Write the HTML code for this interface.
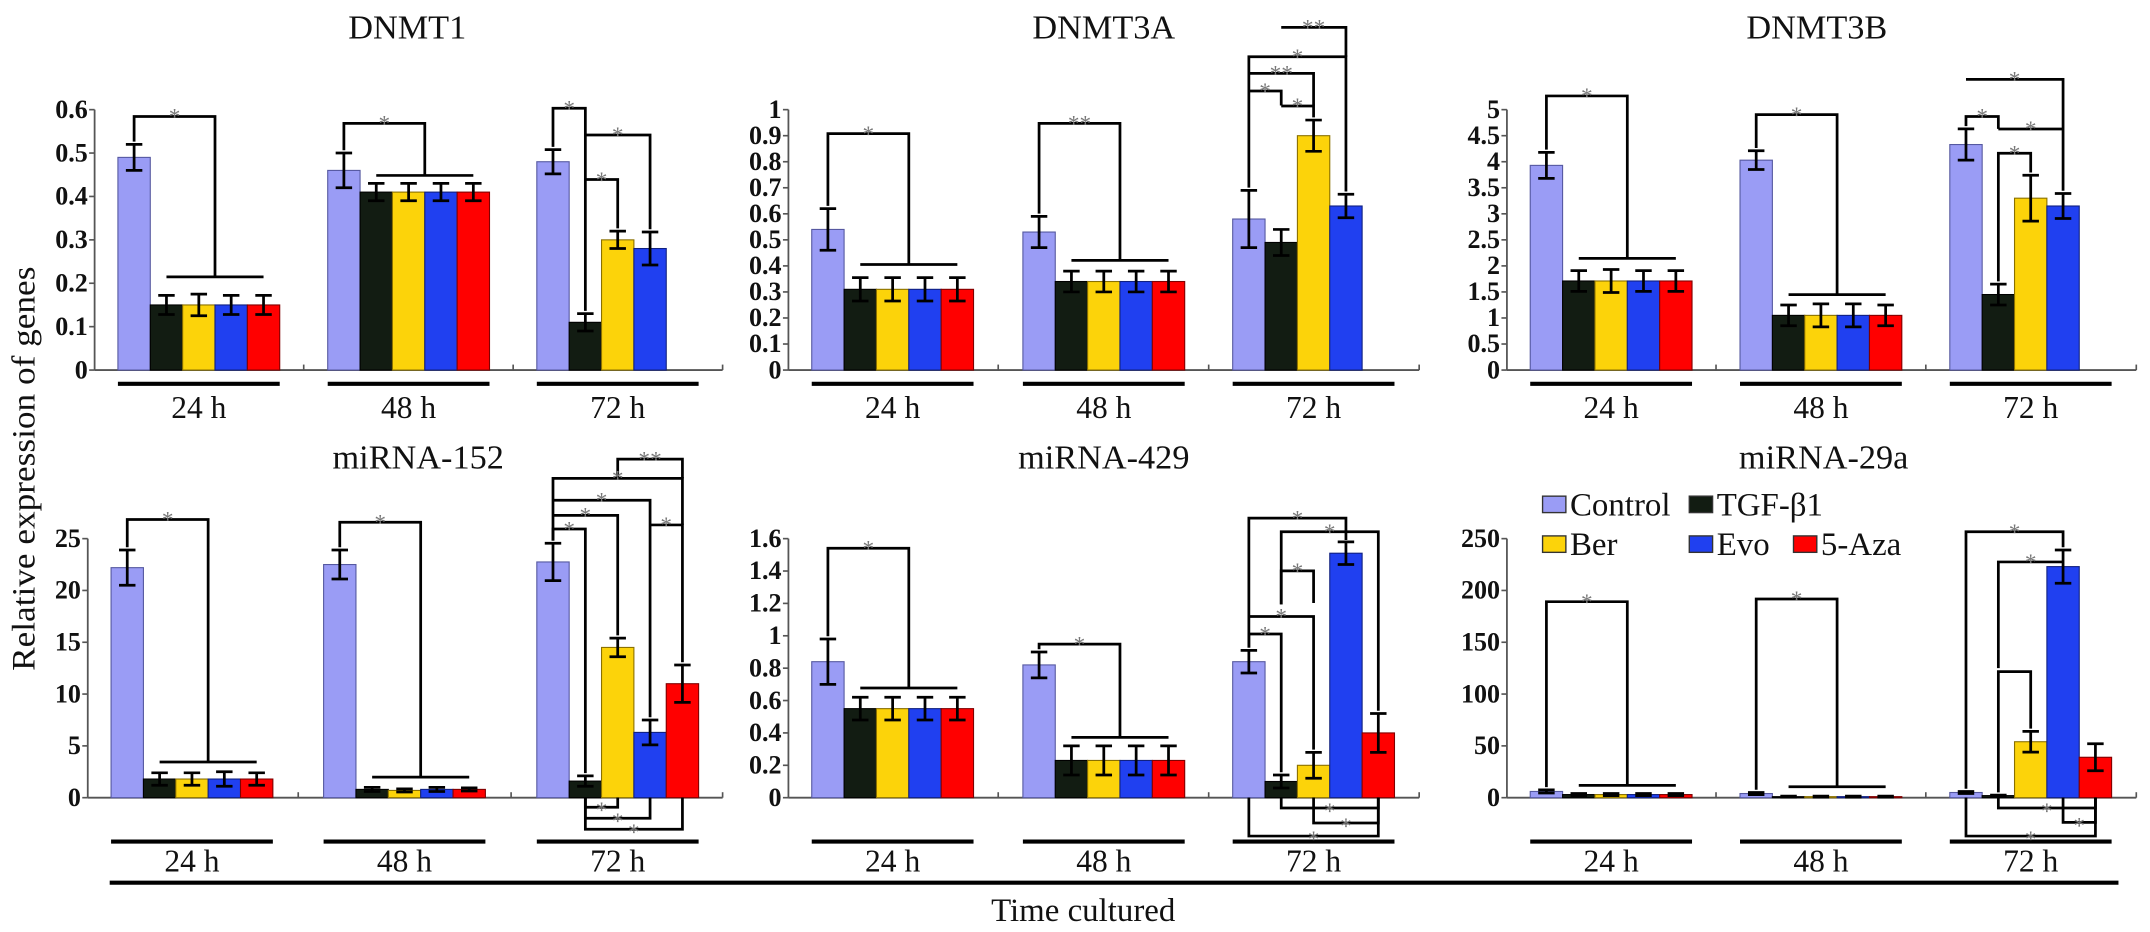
<!DOCTYPE html>
<html><head><meta charset="utf-8">
<style>
html,body{margin:0;padding:0;background:#fff;}
svg{display:block;font-family:"Liberation Serif","DejaVu Serif",serif;}
svg text{font-family:"Liberation Serif","DejaVu Serif",serif;fill:#111;}
</style></head>
<body>
<svg id="chart" width="2150" height="932" viewBox="0 0 1568 680" preserveAspectRatio="none" font-family="Liberation Serif, DejaVu Serif, serif">
  <text x="0" y="0" transform="translate(25,342) rotate(-90)" text-anchor="middle" font-size="24" textLength="295" lengthAdjust="spacingAndGlyphs">Relative expression of genes</text>
  <line x1="80" y1="644" x2="1545" y2="644" stroke="#000" stroke-width="3"/>
  <text x="790" y="672" text-anchor="middle" font-size="24">Time cultured</text>
  <g>
    <rect x="1125" y="362" width="17" height="12" fill="#9a9cf5" stroke="#333"/>
    <text x="1145" y="376" font-size="24">Control</text>
    <rect x="1232" y="362" width="17" height="12" fill="#121c12" stroke="#333"/>
    <text x="1252" y="376" font-size="24">TGF-β1</text>
    <rect x="1125" y="391" width="17" height="12" fill="#fcd30a" stroke="#333"/>
    <text x="1145" y="405" font-size="24">Ber</text>
    <rect x="1232" y="391" width="17" height="12" fill="#2040f0" stroke="#333"/>
    <text x="1252" y="405" font-size="24">Evo</text>
    <rect x="1308" y="391" width="17" height="12" fill="#ff0000" stroke="#333"/>
    <text x="1328" y="405" font-size="24">5-Aza</text>
  </g>
</svg>
<script>
// ---- data ----
const groupLabels = ["24 h","48 h","72 h"];
const seriesNames = ["Control","TGF-β1","Ber","Evo","5-Aza"];
const dnmt1Values = [[0.49,0.15,0.15,0.15,0.15],[0.46,0.41,0.41,0.41,0.41],[0.48,0.11,0.30,0.28,null]];
const dnmt1Errors = [[0.03,0.022,0.025,0.022,0.022],[0.04,0.02,0.02,0.02,0.02],[0.028,0.02,0.02,0.038,0]];
const dnmt1Ticks = ["0","0.1","0.2","0.3","0.4","0.5","0.6"];
const dnmt3aValues = [[0.54,0.31,0.31,0.31,0.31],[0.53,0.34,0.34,0.34,0.34],[0.58,0.49,0.90,0.63,null]];
const dnmt3aErrors = [[0.08,0.045,0.045,0.045,0.045],[0.06,0.04,0.04,0.04,0.04],[0.11,0.05,0.06,0.045,0]];
const dnmt3aTicks = ["0","0.1","0.2","0.3","0.4","0.5","0.6","0.7","0.8","0.9","1"];
const dnmt3bValues = [[3.93,1.71,1.71,1.71,1.71],[4.03,1.05,1.05,1.05,1.05],[4.33,1.45,3.30,3.15,null]];
const dnmt3bErrors = [[0.25,0.2,0.22,0.2,0.2],[0.18,0.2,0.22,0.22,0.2],[0.3,0.2,0.44,0.24,0]];
const dnmt3bTicks = ["0","0.5","1","1.5","2","2.5","3","3.5","4","4.5","5"];
const mir152Values = [[22.2,1.8,1.8,1.8,1.8],[22.5,0.8,0.7,0.8,0.8],[22.75,1.6,14.5,6.3,11.0]];
const mir152Errors = [[1.7,0.6,0.6,0.7,0.6],[1.4,0.2,0.15,0.2,0.15],[1.8,0.5,0.9,1.2,1.8]];
const mir152Ticks = ["0","5","10","15","20","25"];
const mir429Values = [[0.84,0.55,0.55,0.55,0.55],[0.82,0.23,0.23,0.23,0.23],[0.84,0.10,0.20,1.51,0.40]];
const mir429Errors = [[0.14,0.07,0.07,0.07,0.07],[0.08,0.09,0.09,0.09,0.09],[0.07,0.04,0.08,0.07,0.12]];
const mir429Ticks = ["0","0.2","0.4","0.6","0.8","1","1.2","1.4","1.6"];
const mir29aValues = [[6,3,3,3,3],[4,1,1,1,1],[5,2,54,223,39]];
const mir29aErrors = [[1.5,1,1,1,1],[1,0.5,0.5,0.5,0.5],[1,0.5,10,16,13]];
const mir29aTicks = ["0","50","100","150","200","250"];

// ---- layout ----
const colors = ["#9a9cf5","#121c12","#fcd30a","#2040f0","#ff0000"];
const strokes = ["#5558a0","#000","#8a7000","#102080","#800000"];
const BW = 23.6;
const panels = [
 {name:"dnmt1",title:"DNMT1",tx:297,ty:28,ax:69,y0:270,yTop:80,max:0.6,vals:dnmt1Values,errs:dnmt1Errors,ticks:dnmt1Ticks,gx:[86,239,391.5],end:527,ul:280,lb:305,
  br:[{t:"cr",g:0,top:85,bot:202,l:"*"},{t:"cr",g:1,top:90,bot:128,l:"*"},
      {t:"p",g:2,a:0,b:1,y:79,l:"*"},{t:"p",g:2,a:1,b:3,y:98.5,la:0,l:"*"},{t:"p",g:2,a:1,b:2,y:131,la:0,l:"*"}]},
 {name:"dnmt3a",title:"DNMT3A",tx:805,ty:28,ax:575,y0:270,yTop:80,max:1.0,vals:dnmt3aValues,errs:dnmt3aErrors,ticks:dnmt3aTicks,gx:[592,746,899],end:1035,ul:280,lb:305,
  br:[{t:"cr",g:0,top:97.5,bot:193,l:"*"},{t:"cr",g:1,top:90,bot:190,l:"**"},
      {t:"p",g:2,a:1,b:3,y:20,la:0,lb:41.4,l:"**"},{t:"p",g:2,a:0,b:3,y:41.4,l:"*"},{t:"p",g:2,a:0,b:2,y:53.5,la:0,lb:77,l:"**"},
      {t:"p",g:2,a:0,b:1,y:66.4,la:0,lb:77,l:"*"},{t:"p",g:2,a:1,b:2,y:77.3,la:0,l:"*"}]},
 {name:"dnmt3b",title:"DNMT3B",tx:1325,ty:28,ax:1099,y0:270,yTop:80,max:5,vals:dnmt3bValues,errs:dnmt3bErrors,ticks:dnmt3bTicks,gx:[1116,1269,1422],end:1558,ul:280,lb:305,
  br:[{t:"cr",g:0,top:70,bot:188.5,l:"*"},{t:"cr",g:1,top:83.6,bot:215,l:"*"},
      {t:"p",g:2,a:0,b:3,y:57.9,la:0,l:"*"},{t:"p",g:2,a:0,b:1,y:85,lb:94,l:"*"},{t:"p",g:2,a:1,b:3,y:94.1,la:0,lb:0,l:"*"},{t:"p",g:2,a:1,b:2,y:111.8,l:"*"}]},
 {name:"mirna-152",title:"miRNA-152",tx:305,ty:342,ax:64,y0:582,yTop:393,max:25,vals:mir152Values,errs:mir152Errors,ticks:mir152Ticks,gx:[81,236,391.5],end:527,ul:614,lb:636,
  br:[{t:"cr",g:0,top:379,bot:556,l:"*"},{t:"cr",g:1,top:381,bot:567,l:"*"},
      {t:"p",g:2,a:2,b:4,y:335,lb:349,la:349,l:"**"},{t:"p",g:2,a:0,b:4,y:349,lb:383,l:"*"},{t:"p",g:2,a:0,b:3,y:365,la:0,l:"*"},
      {t:"p",g:2,a:0,b:2,y:376,la:0,l:"*"},{t:"p",g:2,a:0,b:1,y:386,l:"*"},{t:"p",g:2,a:3,b:4,y:383,la:0,l:"*"},
      {t:"d",g:2,a:1,b:2,y:589,l:"*"},{t:"d",g:2,a:1,b:3,y:597,l:"*"},{t:"d",g:2,a:1,b:4,y:605,l:"*"}]},
 {name:"mirna-429",title:"miRNA-429",tx:805,ty:342,ax:575,y0:582,yTop:393,max:1.6,vals:mir429Values,errs:mir429Errors,ticks:mir429Ticks,gx:[592,746,899],end:1035,ul:614,lb:636,
  br:[{t:"cr",g:0,top:400,bot:502,l:"*"},{t:"cr",g:1,top:470,bot:538,l:"*"},
      {t:"p",g:2,a:0,b:3,y:378,lb:394,l:"*"},{t:"p",g:2,a:1,b:4,y:388,la:441,l:"*"},{t:"p",g:2,a:1,b:2,y:416.5,la:441,lb:440,l:"*"},
      {t:"p",g:2,a:0,b:2,y:449.8,la:0,l:"*"},{t:"p",g:2,a:0,b:1,y:462.6,l:"*"},
      {t:"d",g:2,a:1,b:4,y:589.5,l:"*"},{t:"d",g:2,a:2,b:4,y:600.5,l:"*"},{t:"d",g:2,a:0,b:4,y:610,l:"*"}]},
 {name:"mirna-29a",title:"miRNA-29a",tx:1330,ty:342,ax:1099,y0:582,yTop:393,max:250,vals:mir29aValues,errs:mir29aErrors,ticks:mir29aTicks,gx:[1116,1269,1422],end:1558,ul:614,lb:636,
  br:[{t:"cr",g:0,top:439,bot:573,l:"*"},{t:"cr",g:1,top:437,bot:574,l:"*"},
      {t:"p",g:2,a:0,b:3,y:388,l:"*"},{t:"p",g:2,a:1,b:3,y:410,la:487.5,lb:0,l:"*"},{t:"p",g:2,a:1,b:2,y:490,l:""},
      {t:"d",g:2,a:1,b:4,y:589.5,l:"*"},{t:"d",g:2,a:3,b:4,y:600,l:"*"},{t:"d",g:2,a:0,b:4,y:610,l:"*"}]}
];

const svg = document.getElementById('chart');
const NS = svg.namespaceURI;
function mk(tag, attrs, parent){
  const el = document.createElementNS(NS, tag);
  for (const k in attrs) el.setAttribute(k, attrs[k]);
  parent.appendChild(el);
  return el;
}

panels.forEach(p => {
  const g = mk('g', {}, svg);
  
  
  const yScale = v => p.y0 - (v / p.max) * (p.y0 - p.yTop);
  const cx = (gi, i) => p.gx[gi] + (i + 0.5) * BW;
  const errTop = (gi, i) => yScale(p.vals[gi][i] + p.errs[gi][i]) - 2;

  const title = mk('text', {x:p.tx, y:p.ty, 'text-anchor':'middle', 'font-size':25}, g);
  
  
  title.textContent = p.title;

  const yAxis = mk('line', {x1:p.ax, y1:p.yTop, x2:p.ax, y2:p.y0, stroke:'#555', 'stroke-width':1.3}, g);
  
  
  const nT = p.ticks.length - 1;
  p.ticks.forEach((lab, k) => {
    const v = p.max * k / nT;
    const y = yScale(v);
    const tk = mk('line', {x1:p.ax - 4, y1:y, x2:p.ax, y2:y, stroke:'#555', 'stroke-width':1.2}, g);
    
    
    const tl = mk('text', {x:p.ax - 5, y:y + 6, 'text-anchor':'end', 'font-size':19, 'font-weight':600}, g);
    
    
    tl.textContent = lab;
  });
  const xAxis = mk('line', {x1:p.ax, y1:p.y0, x2:p.end, y2:p.y0, stroke:'#555', 'stroke-width':1.3}, g);
  
  
  [ (p.gx[0]+5*BW+p.gx[1])/2, (p.gx[1]+5*BW+p.gx[2])/2, p.end ].forEach(x => {
    const t = mk('line', {x1:x, y1:p.y0, x2:x, y2:p.y0 - 4, stroke:'#555', 'stroke-width':1.2}, g);
    
    
  });

  p.vals.forEach((grp, gi) => {
    grp.forEach((v, i) => {
      if (v === null) return;
      const x = p.gx[gi] + i * BW;
      const y = yScale(v);
      const r = mk('rect', {x:x, y:y, width:BW, height:Math.max(p.y0 - y, 0.5), fill:colors[i], stroke:strokes[i], 'stroke-width':0.8}, g);
      
      
      const e = p.errs[gi][i];
      const yt = yScale(v + e), yb = yScale(Math.max(v - e, 0));
      const c = x + BW / 2;
      const eb = mk('path', {d:`M${c},${yt}V${yb}M${c-6},${yt}H${c+6}M${c-6},${yb}H${c+6}`, stroke:'#000', 'stroke-width':2, fill:'none'}, g);
      
      
    });
    const ul = mk('line', {x1:p.gx[gi], y1:p.ul, x2:p.gx[gi] + 5 * BW, y2:p.ul, stroke:'#000', 'stroke-width':3}, g);
    
    
    const gl = mk('text', {x:p.gx[gi] + 2.5 * BW, y:p.lb, 'text-anchor':'middle', 'font-size':23}, g);
    
    
    gl.textContent = groupLabels[gi];
  });

  p.br.forEach(b => {
    let d, lx, ly;
    if (b.t === 'cr') {
      const x0 = cx(b.g, 0), x1 = p.gx[b.g] + 3 * BW;
      d = `M${x0},${errTop(b.g,0)}V${b.top}H${x1}V${b.bot}M${cx(b.g,1)},${b.bot}H${cx(b.g,4)}`;
      lx = (x0 + x1) / 2; ly = b.top - 3;
    } else if (b.t === 'p') {
      const xa = cx(b.g, b.a), xb = cx(b.g, b.b);
      const la = (b.la === undefined) ? errTop(b.g, b.a) : (b.la === 0 ? b.y : b.la);
      const lb = (b.lb === undefined) ? errTop(b.g, b.b) : (b.lb === 0 ? b.y : b.lb);
      d = `M${xa},${la}V${b.y}H${xb}V${lb}`;
      lx = (xa + xb) / 2; ly = b.y - 3;
    } else {
      const xa = cx(b.g, b.a), xb = cx(b.g, b.b);
      d = `M${xa},${p.y0}V${b.y}H${xb}V${p.y0}`;
      lx = (xa + xb) / 2; ly = b.y - 1;
    }
    const bp = mk('path', {d:d, stroke:'#000', 'stroke-width':2, fill:'none'}, g);
    
    
    if (b.l) {
      const st = mk('text', {x:lx, y:ly + 9, 'text-anchor':'middle', 'font-size':17, style:'fill:#777'}, g);
      
      
      st.textContent = b.l;
    }
  });
});
</script>
</body></html>
